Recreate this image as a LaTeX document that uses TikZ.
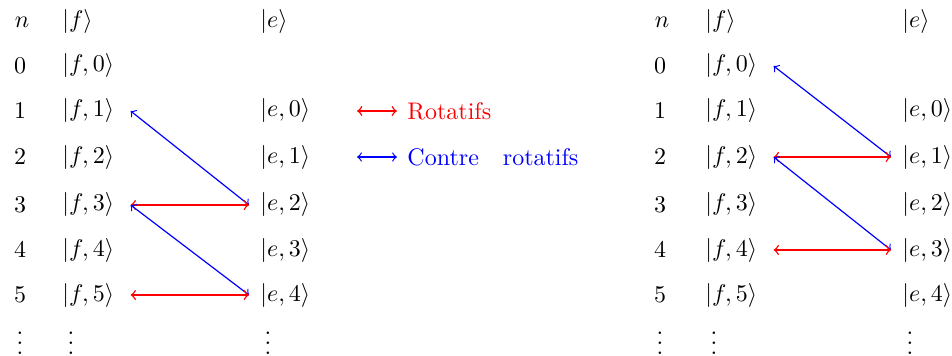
\documentclass[tikz,border=0pt]{standalone}
\begin{document}
\begin{tikzpicture}[x=0.41667pt,y=-0.41667pt,
  lbl/.style={inner sep=0pt, anchor=west},
  num/.style={inner sep=0pt, anchor=center},
  rot/.style={<->, red, line width=0.6pt},
  crot/.style={<->, blue, line width=0.5pt}]
\useasboundingbox (0,0) rectangle (952,356);
% ---------- left panel ----------
\node[num] (Ln) at (22,22) {$n$};
\node[lbl] (Lfh) at (62,22) {$|f\rangle$};
\node[lbl] (Leh) at (260,22) {$|e\rangle$};
\foreach \i/\y in {0/66,1/111,2/157,3/205,4/250,5/295} {
  \node[num] (Ln\i) at (20,\y) {$\i$};
  \node[lbl] (Lf\i) at (62,\y) {$|f,\i\rangle$};
}
\foreach \i/\y in {0/111,1/157,2/205,3/250,4/295} {
  \node[lbl] (Le\i) at (260,\y) {$|e,\i\rangle$};
}
\node[num] (Lnd) at (20,336) {$\vdots$};
\node[num] (Lfd) at (71,336) {$\vdots$};
\node[num] (Led) at (268,336) {$\vdots$};
\draw[crot] ([xshift=6.67pt]Lf1.east) -- ([xshift=-4.6pt]Le2.west);
\draw[rot] ([xshift=6.67pt]Lf3.east) -- ([xshift=-4.6pt]Le2.west);
\draw[crot] ([xshift=6.67pt]Lf3.east) -- ([xshift=-4.6pt]Le4.west);
\draw[rot] ([xshift=6.67pt]Lf5.east) -- ([xshift=-4.6pt]Le4.west);
% ---------- legend ----------
\node[lbl, red] (legR) at (407,111) {Rotatifs};
\node[lbl, blue] (legC) at (407,157) {Contre\quad rotatifs};
\draw[rot] ([xshift=-20.8pt]legR.west) -- ([xshift=-4.2pt]legR.west);
\draw[crot] ([xshift=-20.8pt]legC.west) -- ([xshift=-4.2pt]legC.west);
% ---------- right panel ----------
\node[num] (Rn) at (662,22) {$n$};
\node[lbl] (Rfh) at (705,22) {$|f\rangle$};
\node[lbl] (Reh) at (902,22) {$|e\rangle$};
\foreach \i/\y in {0/66,1/111,2/157,3/205,4/250,5/295} {
  \node[num] (Rn\i) at (660,\y) {$\i$};
  \node[lbl] (Rf\i) at (705,\y) {$|f,\i\rangle$};
}
\foreach \i/\y in {0/111,1/157,2/205,3/250,4/295} {
  \node[lbl] (Re\i) at (902,\y) {$|e,\i\rangle$};
}
\node[num] (Rnd) at (660,336) {$\vdots$};
\node[num] (Rfd) at (714,336) {$\vdots$};
\node[num] (Red) at (910,336) {$\vdots$};
\draw[crot] ([xshift=6.67pt]Rf0.east) -- ([xshift=-4.6pt]Re1.west);
\draw[rot] ([xshift=6.67pt]Rf2.east) -- ([xshift=-4.6pt]Re1.west);
\draw[crot] ([xshift=6.67pt]Rf2.east) -- ([xshift=-4.6pt]Re3.west);
\draw[rot] ([xshift=6.67pt]Rf4.east) -- ([xshift=-4.6pt]Re3.west);
\end{tikzpicture}
\end{document}
